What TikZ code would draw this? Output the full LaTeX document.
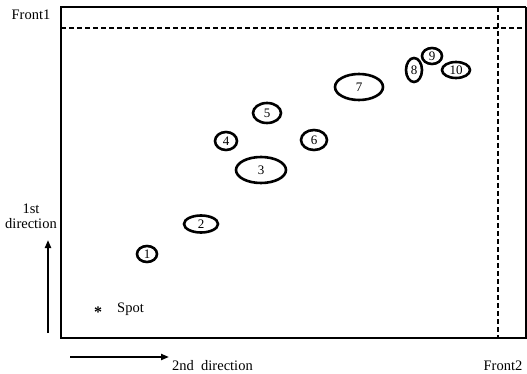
\documentclass[tikz,border=0pt]{standalone}
\usepackage{fontspec}
\setmainfont{Liberation Serif}
\usetikzlibrary{arrows.meta,shapes.geometric}
\begin{document}
\begin{tikzpicture}[x=1pt,y=-1pt,
  spotell/.style={draw,line width=2.6pt,ellipse,inner sep=0pt,font=\fontsize{13}{13}\selectfont},
  lbl/.style={font=\fontsize{14.5}{15}\selectfont,inner sep=0pt},
  dashline/.style={line width=1.5pt,dash pattern=on 5pt off 3pt}]
\useasboundingbox (0,0) rectangle (527,374);
% frame
\coordinate (tl) at (61,7);
\coordinate (tr) at (526,7);
\coordinate (bl) at (61,338);
\coordinate (br) at (526,338);
\draw[line width=1.8pt] (tr) -- (tl) -- (bl) -- (br) -- (tr);
\coordinate (h1) at (61,28);
\coordinate (h2) at (526,28);
\draw[dashline] (h1) -- (h2);
\coordinate (v1) at (498,7);
\coordinate (v2) at (498,338);
\draw[dashline] (v1) -- (v2);
% ellipses
\node[spotell,minimum width=20pt,minimum height=16pt] (e1) at (147,254) {1};
\node[spotell,minimum width=34pt,minimum height=17pt] (e2) at (201,224) {2};
\node[spotell,minimum width=50pt,minimum height=26pt] (e3) at (261,170) {3};
\node[spotell,minimum width=22pt,minimum height=18pt] (e4) at (226,141) {4};
\node[spotell,minimum width=28pt,minimum height=20pt] (e5) at (267,113) {5};
\node[spotell,minimum width=26pt,minimum height=20pt] (e6) at (314,140) {6};
\node[spotell,minimum width=48pt,minimum height=26pt] (e7) at (359,87) {7};
\node[spotell,minimum width=16pt,minimum height=24pt] (e8) at (414,70) {8};
\node[spotell,minimum width=20pt,minimum height=16pt] (e9) at (432,56) {9};
\node[spotell,minimum width=28pt,minimum height=16pt] (e10) at (456,70) {10};
% labels
\node[lbl] (front1) at (31,15) {Front1};
\node[lbl,align=center] (dir1) at (31,216) {1st\\direction};
\node[lbl,anchor=west] (dir2) at (172,366) {2nd\ \ direction};
\node[lbl] (front2) at (503,366) {Front2};
\node[inner sep=0pt,font=\fontsize{16}{16}\selectfont\bfseries] (ast) at (98,312) {*};
\node[lbl,anchor=west] (spot) at (117,309) {Spot};
% arrows
\coordinate (a1s) at (48,333);
\coordinate (a1e) at (48,240);
\draw[line width=2.6pt,-{Triangle[length=8pt,width=6pt]}] (a1s) -- (a1e);
\coordinate (a2s) at (70,357);
\coordinate (a2e) at (169,357);
\draw[line width=2.6pt,-{Triangle[length=8pt,width=6pt]}] (a2s) -- (a2e);
\end{tikzpicture}
\end{document}
